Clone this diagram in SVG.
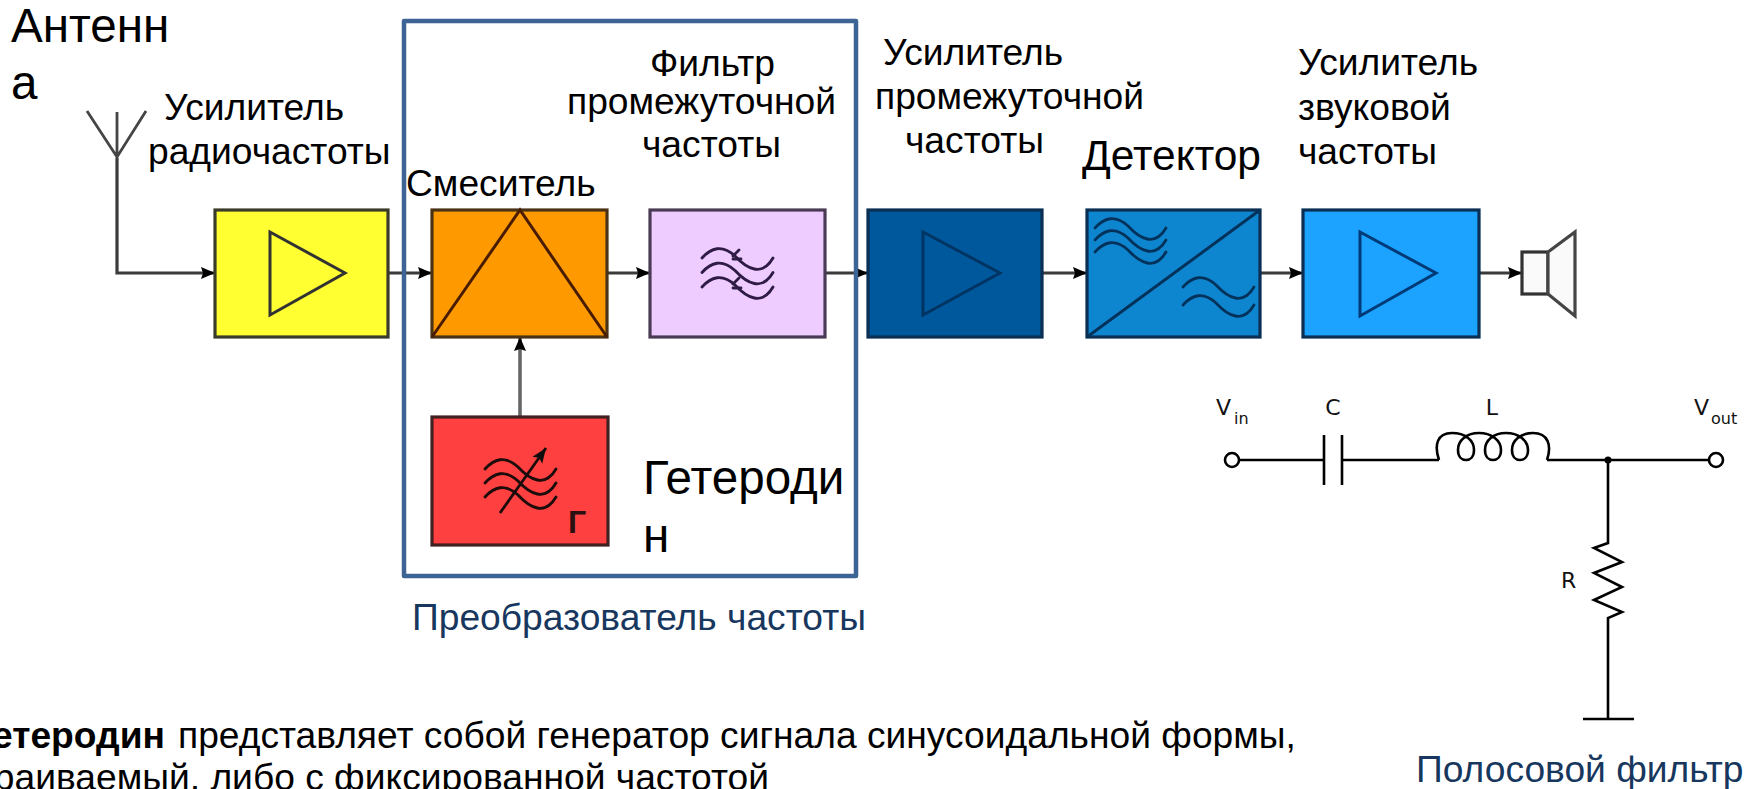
<svg xmlns="http://www.w3.org/2000/svg" xmlns:xlink="http://www.w3.org/1999/xlink" width="1752" height="789" viewBox="0 0 1752 789">
<style>
text{font-family:"Liberation Sans",Arial,sans-serif;fill:#000}
.lb{font-size:37.2px}
.big{font-size:47.6px}
.det{font-size:42.5px}
.cap{font-size:37.2px;fill:#17375e}
.body{font-size:37.2px}
.sch{font-family:"DejaVu Sans",sans-serif;font-size:22px;fill:#111}
.sub{font-family:"DejaVu Sans",sans-serif;font-size:16px;fill:#111}
.box{stroke-width:3.2}
.sym{fill:none;stroke-width:3;stroke-linejoin:miter}
.wire{fill:none;stroke:#3a3a3a;stroke-width:3.2}
.ckt{fill:none;stroke:#000;stroke-width:2.6}
.wave{fill:none;stroke-width:2.8;stroke-linecap:round}
.soft{filter:url(#soft)}
</style>
<defs>
<filter id="soft" x="-5%" y="-5%" width="110%" height="110%"><feGaussianBlur stdDeviation="0.7"/></filter>
<marker id="arr" markerUnits="userSpaceOnUse" markerWidth="16" markerHeight="14" refX="15" refY="7" orient="auto"><path d="M1 1L15 7L1 13L3 7Z" fill="#000"/></marker>
<marker id="arrs" markerUnits="userSpaceOnUse" markerWidth="16" markerHeight="14" refX="15" refY="7" orient="auto"><path d="M0 1L15 7L0 13L3 7Z" fill="#111"/></marker>
<path id="w" d="M0 11C9 1 20 -3 33 9C45 22 60 30 71 11"/>
</defs>

<g id="connectors" class="soft">
<path class="wire" d="M117 158V273H215" marker-end="url(#arr)"/>
<path class="wire" d="M388 273H432" marker-end="url(#arr)"/>
<path class="wire" d="M607 273H650" marker-end="url(#arr)"/>
<path class="wire" d="M825 273H868" marker-end="url(#arr)"/>
<path class="wire" d="M1042 273H1087" marker-end="url(#arr)"/>
<path class="wire" d="M1260 273H1303" marker-end="url(#arr)"/>
<path class="wire" d="M1479 273H1522" marker-end="url(#arr)"/>
<path class="wire" d="M520 417V337" style="stroke:#666;stroke-width:3.6" marker-end="url(#arr)"/>
</g>

<g id="antenna">
<path class="soft" d="M87 111L117 157L146 111M117 112V158" fill="none" stroke="#444" stroke-width="2.8"/>
<text class="big" x="11" y="42">Антенн</text>
<text class="big" x="11" y="99">а</text>
</g>

<g id="rf-amp">
<g class="soft">
<rect class="box" x="215" y="210" width="173" height="127" fill="#ffff33" stroke="#3a3a2a"/>
<path class="sym" d="M270 232L345 273L270 315Z" stroke="#333"/>
</g>
<text class="lb" x="164" y="120">Усилитель</text>
<text class="lb" x="148" y="164">радиочастоты</text>
</g>

<g id="mixer">
<g class="soft">
<rect class="box" x="432" y="210" width="175" height="127" fill="#ff9900" stroke="#4a3318"/>
<path class="sym" d="M432 337L520 210L607 337" stroke="#4a1e00"/>
</g>
<text class="lb" x="406" y="196">Смеситель</text>
</g>

<g id="if-filter">
<g class="soft">
<rect class="box" x="650" y="210" width="175" height="127" fill="#eeccff" stroke="#4a3a55"/>
<g class="wave" stroke="#2e1a44">
<use xlink:href="#w" href="#w" x="702" y="247"/>
<use xlink:href="#w" href="#w" x="702" y="261.500"/>
<use xlink:href="#w" href="#w" x="702" y="276"/>
<path d="M733 256L739 250M733 259L741 259M733 284L739 278M733 288L741 288"/>
</g>
</g>
<text class="lb" x="650" y="76">Фильтр</text>
<text class="lb" x="567" y="114">промежуточной</text>
<text class="lb" x="642" y="157">частоты</text>
</g>

<g id="if-amp">
<g class="soft">
<rect class="box" x="868" y="210" width="174" height="127" fill="#00599c" stroke="#0b2f52"/>
<path class="sym" d="M923 232L1000 273L923 315Z" stroke="#003464"/>
</g>
<text class="lb" x="883" y="65">Усилитель</text>
<text class="lb" x="875" y="109">промежуточной</text>
<text class="lb" x="905" y="153">частоты</text>
</g>

<g id="detector">
<g class="soft">
<rect class="box" x="1087" y="210" width="173" height="127" fill="#0d86cf" stroke="#0b2f52"/>
<path class="sym" d="M1087 337L1260 210" stroke="#06335c"/>
<g class="wave" stroke="#06335c">
<use xlink:href="#w" href="#w" x="1095" y="217"/>
<use xlink:href="#w" href="#w" x="1095" y="229"/>
<use xlink:href="#w" href="#w" x="1095" y="241"/>
<use xlink:href="#w" href="#w" x="1183" y="276"/>
<use xlink:href="#w" href="#w" x="1183" y="294"/>
</g>
</g>
<text class="det" x="1082" y="170">Детектор</text>
</g>

<g id="af-amp">
<g class="soft">
<rect class="box" x="1303" y="210" width="176" height="127" fill="#1aa3ff" stroke="#0b2f52"/>
<path class="sym" d="M1360 232L1436 273L1360 316Z" stroke="#003a78"/>
</g>
<text class="lb" x="1298" y="75">Усилитель</text>
<text class="lb" x="1298" y="120">звуковой</text>
<text class="lb" x="1298" y="164">частоты</text>
</g>

<g id="speaker" class="soft">
<rect x="1522" y="252" width="26" height="42" fill="#fafafa" stroke="#333" stroke-width="3.2"/>
<path d="M1548 252L1575 232V316L1548 294Z" fill="#fafafa" stroke="#444" stroke-width="3.2"/>
</g>

<g id="heterodyne">
<g class="soft">
<rect class="box" x="432" y="417" width="176" height="128" fill="#ff4040" stroke="#402020"/>
<g class="wave" stroke="#1a0808">
<use xlink:href="#w" href="#w" x="485" y="458"/>
<use xlink:href="#w" href="#w" x="485" y="472"/>
<use xlink:href="#w" href="#w" x="485" y="486"/>
</g>
<path d="M500 513L546 448" fill="none" stroke="#1a0808" stroke-width="2.8" marker-end="url(#arrs)"/>
</g>
<text x="568" y="533" font-size="32" font-weight="bold" style="fill:#2a1010">Г</text>
<text class="big" x="643" y="494">Гетероди</text>
<text class="big" x="643" y="552">н</text>
</g>

<g id="converter">
<rect x="404" y="21" width="452" height="555" fill="none" stroke="#3d6494" stroke-width="4.5" stroke-linejoin="round"/>
<text class="cap" x="412" y="630">Преобразователь частоты</text>
</g>

<g id="band-filter">
<circle class="ckt" cx="1232" cy="460" r="7"/>
<circle class="ckt" cx="1716" cy="460" r="7"/>
<path class="ckt" d="M1239 460H1324M1324 435V485M1342 435V485M1342 460H1439"/>
<path class="ckt" d="M1439 460C1434 445 1437 433 1452 433C1465 433 1474 440 1474 450C1474 457 1470 460 1466 460C1462 460 1458 457 1458 450C1458 440 1467 433 1479 433C1491 433 1501 440 1501 450C1501 457 1497 460 1493 460C1489 460 1485 457 1485 450C1485 440 1494 433 1506 433C1518 433 1528 440 1528 450C1528 457 1524 460 1520 460C1516 460 1512 457 1512 450C1512 440 1521 433 1533 433C1548 433 1552 445 1547 460"/>
<path class="ckt" d="M1547 460H1709M1608 460V543L1594 548L1622 562L1594 573L1622 587L1594 600L1622 612L1608 618V719M1583 719H1634"/>
<circle cx="1608" cy="460" r="3.500" fill="#000"/>
<text class="sch" x="1216" y="415">V</text><text class="sub" x="1234" y="424">in</text>
<text class="sch" x="1333" y="415" text-anchor="middle">C</text>
<text class="sch" x="1492" y="415" text-anchor="middle">L</text>
<text class="sch" x="1694" y="415">V</text><text class="sub" x="1711" y="424">out</text>
<text class="sch" x="1561" y="588">R</text>
<text class="cap" x="1416" y="782">Полосовой фильтр</text>
</g>

<g id="description">
<text class="body" x="165" y="748" text-anchor="end" font-weight="bold">Гетеродин</text>
<text class="body" x="178" y="748">представляет собой генератор сигнала синусоидальной формы,</text>
<text class="body" x="769" y="790" text-anchor="end">перестраиваемый, либо с фиксированной частотой</text>
</g>
</svg>
